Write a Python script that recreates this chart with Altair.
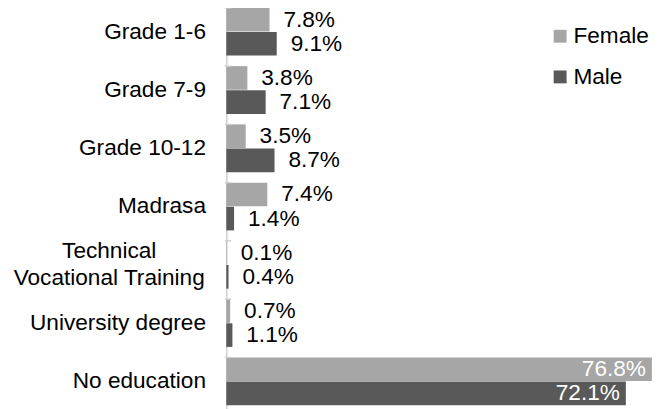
import altair as alt
import pandas as pd

categories = ["Grade 1-6", "Grade 7-9", "Grade 10-12", "Madrasa",
              "Technical Vocational Training", "University degree", "No education"]
female = [7.8, 3.8, 3.5, 7.4, 0.1, 0.7, 76.8]
male = [9.1, 7.1, 8.7, 1.4, 0.4, 1.1, 72.1]
genders = ["Female", "Male"]
colors = ["#a6a6a6", "#595959"]
tvt_lines = "Technical\\nVocational Training"

rows = []
for c, f, m in zip(categories, female, male):
    rows.append({"category": c, "gender": "Female", "value": f})
    rows.append({"category": c, "gender": "Male", "value": m})
df = pd.DataFrame(rows)

FONT = "Liberation Sans"
FS = 22.8
AXIS_GRAY = "#d0d0d0"
is_tvt = "datum.value == 'Technical Vocational Training'"
label_expr = f"{is_tvt} ? '' : datum.value"

yscale = alt.Scale(domain=categories, range=[-7, 404], paddingInner=0.18, paddingOuter=0.09)
yaxis = alt.Axis(title=None, labelFont=FONT, labelFontSize=FS, labelColor="#000000",
                 ticks=False, tickSize=0, domainColor=AXIS_GRAY, domainWidth=1.5,
                 labelPadding=21, labelExpr=label_expr, labelLimit=0, grid=False)
yenc = alt.Y("category:N", sort=categories, scale=yscale, axis=yaxis)
xenc = alt.X("value:Q", scale=alt.Scale(domain=[0, 77], nice=False), axis=None)
yoff = alt.YOffset("gender:N", sort=genders, scale=alt.Scale(paddingInner=0.02))

base = alt.Chart(df).transform_calculate(
    label="format(datum.value, '.1f') + '%'"
)

bars = base.mark_bar().encode(
    x=xenc,
    y=yenc,
    yOffset=yoff,
    color=alt.Color("gender:N", scale=alt.Scale(domain=genders, range=colors),
                    legend=alt.Legend(title=None, orient="none", legendX=325, legendY=15.5,
                                      symbolType="square", symbolSize=169, labelFontSize=FS,
                                      labelFont=FONT, labelColor="#000000", rowPadding=17,
                                      labelOffset=2, padding=0, symbolStrokeWidth=0,
                                      symbolOpacity=1)),
)

# category separator ticks crossing the axis line (Excel style)
ticks = alt.Chart(df).transform_filter("datum.gender == 'Female'").mark_rule(
    color=AXIS_GRAY, strokeWidth=1.5
).encode(
    y=alt.Y("category:N", sort=categories, scale=yscale, axis=yaxis, bandPosition=0),
    x=alt.value(-1.5), x2=alt.value(5),
)

outside = base.transform_filter("datum.category != 'No education'").mark_text(
    align="left", baseline="middle", dx=14, font=FONT, fontSize=FS, color="#000000"
).encode(x=xenc, y=yenc, yOffset=yoff, text="label:N")

inside = base.transform_filter("datum.category == 'No education'").mark_text(
    align="right", baseline="middle", dx=-6, font=FONT, fontSize=FS, color="#ffffff"
).encode(x=xenc, y=yenc, yOffset=yoff, text="label:N")

tvt_label = alt.Chart(df).transform_filter(
    "datum.category == 'Technical Vocational Training' && datum.gender == 'Female'"
).transform_calculate(
    cat_label=f"'{tvt_lines}'"
).mark_text(
    align="center", baseline="middle", dy=-13.5, lineBreak="\n", lineHeight=27,
    font=FONT, fontSize=FS, color="#000000"
).encode(x=alt.value(-118), y=yenc, text="cat_label:N")

chart = alt.layer(bars, ticks, outside, inside, tvt_label).properties(
    width=430, height=401,
    autosize=alt.AutoSizeParams(type="none"),
    padding={"left": 220, "top": 0, "right": 0, "bottom": 0},
).configure_view(stroke=None)

chart.save("out.html", embed_options={"renderer": "svg", "actions": False})
